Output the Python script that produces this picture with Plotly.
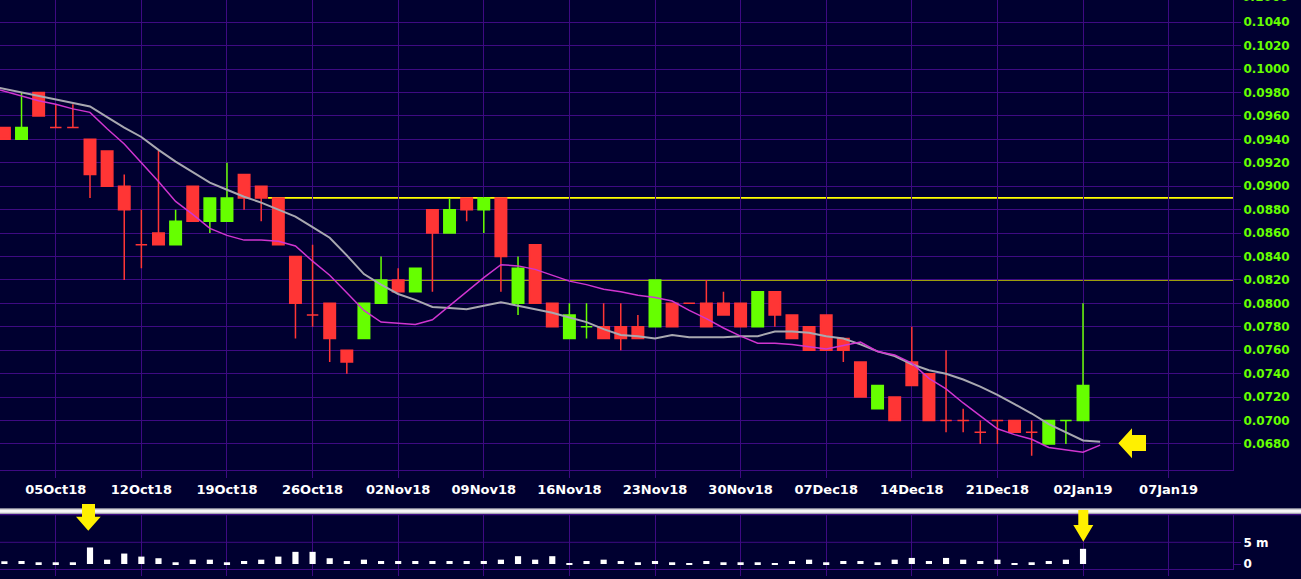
import plotly.graph_objects as go

# ---------------- data ----------------
dates = ["02Oct18", "03Oct18", "04Oct18", "05Oct18", "08Oct18", "09Oct18", "10Oct18", "11Oct18", "12Oct18",
         "15Oct18", "16Oct18", "17Oct18", "18Oct18", "19Oct18", "22Oct18", "23Oct18", "24Oct18", "25Oct18",
         "26Oct18", "29Oct18", "30Oct18", "31Oct18", "01Nov18", "02Nov18", "05Nov18", "06Nov18", "07Nov18",
         "08Nov18", "09Nov18", "12Nov18", "13Nov18", "14Nov18", "15Nov18", "16Nov18", "19Nov18", "20Nov18",
         "21Nov18", "22Nov18", "23Nov18", "26Nov18", "27Nov18", "28Nov18", "29Nov18", "30Nov18", "03Dec18",
         "04Dec18", "05Dec18", "06Dec18", "07Dec18", "10Dec18", "11Dec18", "12Dec18", "13Dec18", "14Dec18",
         "17Dec18", "18Dec18", "19Dec18", "20Dec18", "21Dec18", "24Dec18", "27Dec18", "28Dec18", "31Dec18",
         "02Jan19"]

opens = [0.0950, 0.0940, 0.0980, 0.0950, 0.0950, 0.0940, 0.0930, 0.0900, 0.0850,
         0.0860, 0.0850, 0.0900, 0.0870, 0.0870, 0.0910, 0.0900, 0.0890, 0.0840,
         0.0790, 0.0800, 0.0760, 0.0770, 0.0800, 0.0820, 0.0810, 0.0880, 0.0860,
         0.0890, 0.0880, 0.0890, 0.0800, 0.0850, 0.0800, 0.0770, 0.0780, 0.0780,
         0.0780, 0.0780, 0.0780, 0.0800, 0.0800, 0.0800, 0.0800, 0.0800, 0.0780,
         0.0810, 0.0790, 0.0780, 0.0790, 0.0770, 0.0750, 0.0710, 0.0720, 0.0750,
         0.0740, 0.0700, 0.0700, 0.0690, 0.0700, 0.0700, 0.0690, 0.0680, 0.0700,
         0.0700]
highs = [0.0950, 0.0980, 0.0980, 0.0970, 0.0970, 0.0940, 0.0930, 0.0910, 0.0880,
         0.0930, 0.0880, 0.0900, 0.0890, 0.0920, 0.0910, 0.0900, 0.0890, 0.0840,
         0.0850, 0.0800, 0.0760, 0.0800, 0.0840, 0.0830, 0.0830, 0.0880, 0.0890,
         0.0890, 0.0890, 0.0890, 0.0840, 0.0850, 0.0800, 0.0800, 0.0800, 0.0800,
         0.0800, 0.0790, 0.0820, 0.0800, 0.0800, 0.0820, 0.0810, 0.0800, 0.0810,
         0.0810, 0.0790, 0.0780, 0.0790, 0.0770, 0.0750, 0.0730, 0.0720, 0.0780,
         0.0740, 0.0760, 0.0710, 0.0700, 0.0700, 0.0700, 0.0700, 0.0700, 0.0700,
         0.0800]
lows = [0.0940, 0.0940, 0.0960, 0.0950, 0.0950, 0.0890, 0.0900, 0.0820, 0.0830,
        0.0850, 0.0850, 0.0870, 0.0860, 0.0870, 0.0880, 0.0870, 0.0850, 0.0770,
        0.0780, 0.0750, 0.0740, 0.0770, 0.0800, 0.0810, 0.0810, 0.0810, 0.0860,
        0.0870, 0.0860, 0.0810, 0.0790, 0.0800, 0.0780, 0.0770, 0.0770, 0.0770,
        0.0760, 0.0770, 0.0780, 0.0780, 0.0800, 0.0780, 0.0790, 0.0780, 0.0780,
        0.0780, 0.0770, 0.0760, 0.0760, 0.0750, 0.0720, 0.0710, 0.0700, 0.0730,
        0.0700, 0.0690, 0.0690, 0.0680, 0.0680, 0.0690, 0.0670, 0.0680, 0.0680,
        0.0700]
closes = [0.0940, 0.0950, 0.0960, 0.0950, 0.0950, 0.0910, 0.0900, 0.0880, 0.0850,
          0.0850, 0.0870, 0.0870, 0.0890, 0.0890, 0.0890, 0.0890, 0.0850, 0.0800,
          0.0790, 0.0770, 0.0750, 0.0800, 0.0820, 0.0810, 0.0830, 0.0860, 0.0880,
          0.0880, 0.0890, 0.0840, 0.0830, 0.0800, 0.0780, 0.0790, 0.0780, 0.0770,
          0.0770, 0.0770, 0.0820, 0.0780, 0.0800, 0.0780, 0.0790, 0.0780, 0.0810,
          0.0790, 0.0770, 0.0760, 0.0760, 0.0760, 0.0720, 0.0730, 0.0700, 0.0730,
          0.0700, 0.0700, 0.0700, 0.0690, 0.0700, 0.0690, 0.0690, 0.0700, 0.0700,
          0.0730]
# candle colour as drawn: U = up (green), D = down (red)
direction = list("DUDDDDDDDD" "UDUUDDDDDD" "DUUDUDUDUD" "UDDUUDDDUD"
                 "DDDDUDDDDD" "DUDDDDDDDD" "DUUU")

volume = [630000, 700000, 400000, 400000, 400000, 3810000, 1000000, 2410000, 1710000,
          1330000, 400000, 1000000, 1000000, 400000, 700000, 1000000, 1710000, 2800000,
          2800000, 1330000, 700000, 1000000, 700000, 700000, 700000, 700000, 700000,
          700000, 700000, 1000000, 1800000, 1000000, 1800000, 200000, 700000, 1000000,
          700000, 400000, 700000, 400000, 200000, 700000, 400000, 400000, 400000,
          200000, 700000, 1000000, 400000, 700000, 700000, 400000, 1000000, 1400000,
          700000, 1400000, 1000000, 700000, 1000000, 200000, 400000, 700000, 1000000,
          3500000]

# moving averages, read at trading-day slots -1 .. 64
ma_slow = [0.0986, 0.0983, 0.0980, 0.0977, 0.0974, 0.0971, 0.0968, 0.0959, 0.0950, 0.0942,
           0.0931, 0.0921, 0.0912, 0.0903, 0.0897, 0.0891, 0.0886, 0.0880, 0.0874, 0.0865,
           0.0856, 0.0841, 0.0825, 0.0816, 0.0808, 0.0803, 0.0797, 0.0796, 0.0795, 0.0798,
           0.0801, 0.0798, 0.0795, 0.0792, 0.0788, 0.0784, 0.0778, 0.0773, 0.0772, 0.0770,
           0.0773, 0.0771, 0.0771, 0.0771, 0.0772, 0.0772, 0.0776, 0.0776, 0.0775, 0.0772,
           0.0770, 0.0765, 0.0759, 0.0755, 0.0748, 0.0743, 0.0740, 0.0735, 0.0729, 0.0722,
           0.0714, 0.0706, 0.0697, 0.0690, 0.0683, 0.0682]
ma_fast = [0.0985, 0.0981, 0.0977, 0.0973, 0.0970, 0.0966, 0.0963, 0.0949, 0.0936, 0.0920,
           0.0904, 0.0887, 0.0876, 0.0864, 0.0858, 0.0854, 0.0854, 0.0853, 0.0849, 0.0836,
           0.0824, 0.0809, 0.0794, 0.0784, 0.0783, 0.0782, 0.0786, 0.0798, 0.0810, 0.0822,
           0.0833, 0.0832, 0.0829, 0.0824, 0.0819, 0.0816, 0.0812, 0.0810, 0.0807, 0.0805,
           0.0802, 0.0794, 0.0787, 0.0779, 0.0772, 0.0766, 0.0766, 0.0765, 0.0763, 0.0761,
           0.0764, 0.0767, 0.0759, 0.0756, 0.0749, 0.0736, 0.0727, 0.0715, 0.0704, 0.0693,
           0.0688, 0.0684, 0.0677, 0.0675, 0.0673, 0.0679]
ma_first_slot = -1

tick_text = ["05Oct18", "12Oct18", "19Oct18", "26Oct18", "02Nov18", "09Nov18", "16Nov18",
             "23Nov18", "30Nov18", "07Dec18", "14Dec18", "21Dec18", "02Jan19", "07Jan19"]
tick_slot = [3, 8, 13, 18, 23, 28, 33, 38, 43, 48, 53, 58, 63, 68]

price_ticks = [0.0680, 0.0700, 0.0720, 0.0740, 0.0760, 0.0780, 0.0800, 0.0820, 0.0840, 0.0860,
               0.0880, 0.0900, 0.0920, 0.0940, 0.0960, 0.0980, 0.1000, 0.1020, 0.1040]
cut_label = "0.1060"

levels = [0.0890, 0.0820]
level_start = [15.4, 17.2]

vol_ticks = [0, 5000000]
vol_tick_text = ["0", "5 m"]

# ---------------- styling ----------------
BG = "#000030"
GRID = "#3E0A82"
GREEN = "#66FF00"
RED = "#FF3535"
YELLOW = "#FFF000"
FONT = "DejaVu Sans"

W, H = 1301, 579
PW, PH = 1233, 569      # plot area (px)


def pxx(v):
    return v / PW


def pxy(v):
    return (PH - v) / PH


x_range = [-0.257, 71.76]
price_range = [0.06578, 0.10589]
vol_range = [-1150000, 11290000]

fig = go.Figure()

slots = list(range(len(dates)))
for key, col in (("U", GREEN), ("D", RED)):
    sel = [i for i in slots if direction[i] == key]
    fig.add_trace(go.Candlestick(
        x=sel,
        open=[opens[i] for i in sel], high=[highs[i] for i in sel],
        low=[lows[i] for i in sel], close=[closes[i] for i in sel],
        text=[dates[i] for i in sel],
        increasing=dict(line=dict(color=col, width=1.5), fillcolor=col),
        decreasing=dict(line=dict(color=col, width=1.5), fillcolor=col),
        whiskerwidth=0, xaxis="x", yaxis="y", showlegend=False))

ma_x = list(range(ma_first_slot, ma_first_slot + len(ma_slow)))
fig.add_trace(go.Scatter(x=ma_x, y=ma_slow, mode="lines",
                         line=dict(color="#A8A8B0", width=2), xaxis="x", yaxis="y", showlegend=False))
fig.add_trace(go.Scatter(x=ma_x, y=ma_fast, mode="lines",
                         line=dict(color="#D035D0", width=1.5), xaxis="x", yaxis="y", showlegend=False))

fig.add_trace(go.Bar(x=slots, y=volume, width=0.36, marker=dict(color="#FFFFFF", line=dict(width=0)),
                     xaxis="x2", yaxis="y2", showlegend=False))

shapes = []
# support / resistance lines
for lv, st, col in zip(levels, level_start, ["#FFFF00", "#D2D200"]):
    shapes.append(dict(type="line", xref="x", yref="y", x0=st, x1=x_range[1], y0=lv, y1=lv,
                       line=dict(color=col, width=1.6), layer="below"))
# volume 5m grid line
shapes.append(dict(type="line", xref="paper", yref="y2", x0=0, x1=1, y0=vol_ticks[1], y1=vol_ticks[1],
                   line=dict(color=GRID, width=1), layer="below"))
# panel separator
shapes.append(dict(type="rect", xref="paper", yref="paper", x0=0, x1=pxx(W), y0=pxy(515.3), y1=pxy(514),
                   fillcolor=GRID, line=dict(width=0)))
shapes.append(dict(type="rect", xref="paper", yref="paper", x0=0, x1=pxx(W), y0=pxy(514), y1=pxy(508.3),
                   fillcolor="#A8A8B4", line=dict(width=0)))
shapes.append(dict(type="rect", xref="paper", yref="paper", x0=0, x1=pxx(W), y0=pxy(512.8), y1=pxy(509.4),
                   fillcolor="#F6F6F6", line=dict(width=0)))


def arrow_path(pts):
    return "M " + " L ".join(f"{pxx(a):.5f},{pxy(b):.5f}" for a, b in pts) + " Z"


arrows = [
    [(1118.3, 443.3), (1132, 428.3), (1132, 435), (1146, 435), (1146, 451), (1132, 451), (1132, 458.3)],
    [(82, 504), (95, 504), (95, 516.7), (100.7, 516.7), (88.3, 530.7), (76, 516.7), (82, 516.7)],
    [(1078.3, 510), (1088.3, 510), (1088.3, 525), (1093.3, 525), (1083.3, 541.7), (1073.3, 525), (1078.3, 525)],
]
for pts in arrows:
    shapes.append(dict(type="path", xref="paper", yref="paper", path=arrow_path(pts),
                       fillcolor=YELLOW, line=dict(width=0)))

axis_common = dict(showgrid=True, gridcolor=GRID, gridwidth=1, zeroline=False, showline=True,
                   linecolor=GRID, linewidth=1, ticks="outside", tickcolor=GRID, tickwidth=1, fixedrange=True)

fig.update_layout(
    width=W, height=H,
    margin=dict(l=0, r=W - PW, t=0, b=H - PH),
    paper_bgcolor=BG, plot_bgcolor=BG,
    showlegend=False,
    boxgap=0.33, boxgroupgap=0,
    hovermode=False,
    xaxis=dict(domain=[0, 1], anchor="y", range=x_range, tickmode="array", tickvals=tick_slot,
               ticktext=tick_text, ticklen=7,
               tickfont=dict(family=FONT, size=13, color="#FFFFFF", weight="bold"),
               rangeslider=dict(visible=False), **axis_common),
    yaxis=dict(domain=[pxy(470), 1], anchor="x", side="right", range=price_range, tickmode="array",
               tickvals=price_ticks, ticktext=[f"{v:.4f}" for v in price_ticks], ticklen=7,
               tickfont=dict(family=FONT, size=12, color=GREEN, weight="bold"), **axis_common),
    xaxis2=dict(domain=[0, 1], anchor="y2", range=x_range, matches="x", tickmode="array",
                tickvals=tick_slot, showticklabels=False, ticklen=6, mirror=True,
                rangeslider=dict(visible=False), **axis_common),
    yaxis2=dict(domain=[0, pxy(515)], anchor="x2", side="right", range=vol_range, tickmode="array",
                tickvals=vol_ticks, ticktext=vol_tick_text, ticklen=7,
                tickfont=dict(family=FONT, size=12, color="#FFFFFF", weight="bold"),
                **{**axis_common, "showgrid": False}),
    shapes=shapes,
    annotations=[dict(text=cut_label, xref="paper", yref="paper", x=pxx(1240), y=pxy(-2.5),
                      xanchor="left", yanchor="middle", showarrow=False,
                      font=dict(family=FONT, size=12, color=GREEN, weight="bold"))],
)

fig.write_html("out.html", config={"displayModeBar": False},
               post_script="document.body.style.margin='0';document.body.style.background='#000030';")
